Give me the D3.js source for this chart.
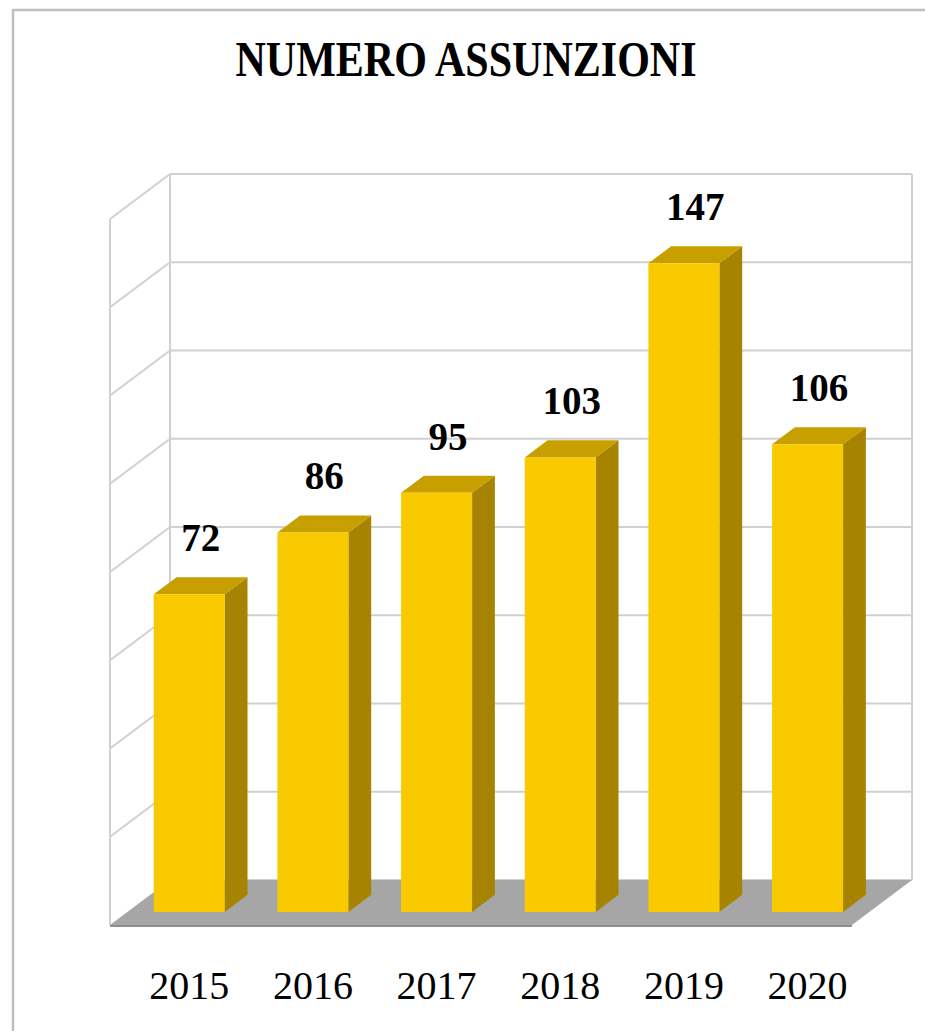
<!DOCTYPE html>
<html>
<head>
<meta charset="utf-8">
<script src="https://cdn.jsdelivr.net/npm/d3@7"></script>
<style>
  html, body { margin: 0; padding: 0; background: #fff; }
  svg { display: block; }
</style>
</head>
<body>
<svg id="chart" width="925" height="1031"></svg>
<script>
// ---- data ----
const title = "NUMERO ASSUNZIONI";
const years = ["2015", "2016", "2017", "2018", "2019", "2020"];
const assunzioni = [72, 86, 95, 103, 147, 106];
const gridTicks = [0, 20, 40, 60, 80, 100, 120, 140, 160];

// ---- layout ----
const svg = d3.select("#chart");
const W = 925, H = 1031;
const front = { x0: 110, x1: 852 };      // front plane horizontal extent
const depth = { dx: 60, dy: -45 };       // offset from front plane to back wall
const zBar = [0.29, 0.67];               // bar depth span (fraction of depth)

const y = d3.scaleLinear().domain([0, 160]).range([925, 219]);
const x = d3.scaleBand().domain(years).range([front.x0, front.x1])
  .paddingInner(0.426).paddingOuter(0.213);

// project (px along front plane, value, z-depth) -> screen
function P(px, v, z) {
  return [px + z * depth.dx, y(v) + z * depth.dy];
}
const gridColor = "#d0d0d0";

// outer frame
svg.append("path")
  .attr("d", `M13,${H} L13,10 L${W},10`)
  .attr("fill", "none").attr("stroke", "#bfbfbf").attr("stroke-width", 2.5);

// title
svg.append("text")
  .attr("x", 466).attr("y", 76)
  .attr("text-anchor", "middle")
  .attr("font-family", "Liberation Serif, serif")
  .attr("font-weight", "bold")
  .attr("font-size", 50)
  .attr("textLength", 461).attr("lengthAdjust", "spacingAndGlyphs")
  .text(title);

// ---- walls ----
const walls = svg.append("g");
walls.selectAll("line.bg").data(gridTicks).join("line")
  .attr("class", "bg")
  .attr("x1", P(front.x0, 0, 1)[0]).attr("x2", P(front.x1, 0, 1)[0])
  .attr("y1", d => P(0, d, 1)[1]).attr("y2", d => P(0, d, 1)[1])
  .attr("stroke", gridColor).attr("stroke-width", 2);
walls.selectAll("line.lg").data(gridTicks.slice(1)).join("line")
  .attr("class", "lg")
  .attr("x1", P(front.x0, 0, 0)[0]).attr("x2", P(front.x0, 0, 1)[0])
  .attr("y1", d => P(front.x0, d, 0)[1]).attr("y2", d => P(front.x0, d, 1)[1])
  .attr("stroke", gridColor).attr("stroke-width", 2);
[[front.x0, 0], [front.x0, 1], [front.x1, 1]].forEach(([px, z]) => {
  const a = P(px, 0, z), b = P(px, 160, z);
  walls.append("line")
    .attr("x1", a[0]).attr("y1", a[1]).attr("x2", b[0]).attr("y2", b[1])
    .attr("stroke", gridColor).attr("stroke-width", 2);
});

// ---- floor ----
const floorPts = [P(front.x0, 0, 0), P(front.x1, 0, 0), P(front.x1, 0, 1), P(front.x0, 0, 1)];
svg.append("polygon")
  .attr("points", floorPts.map(p => p.join(",")).join(" "))
  .attr("fill", "#a6a6a6");
svg.append("line")
  .attr("x1", floorPts[0][0]).attr("x2", floorPts[1][0])
  .attr("y1", floorPts[0][1] + 1).attr("y2", floorPts[1][1] + 1)
  .attr("stroke", "#8e8e8e").attr("stroke-width", 2);

// ---- bars ----
const data = years.map((yr, i) => ({ year: yr, value: assunzioni[i] }));
const bars = svg.append("g").selectAll("g").data(data).join("g");
const poly = pts => pts.map(p => p.join(",")).join(" ");

bars.append("polygon")
  .attr("points", d => {
    const xr = x(d.year) + x.bandwidth();
    return poly([P(xr, 0, zBar[0]), P(xr, d.value, zBar[0]), P(xr, d.value, zBar[1]), P(xr, 0, zBar[1])]);
  })
  .attr("fill", "#a68300");
bars.append("polygon")
  .attr("points", d => {
    const xl = x(d.year), xr = xl + x.bandwidth();
    return poly([P(xl, d.value, zBar[0]), P(xr, d.value, zBar[0]), P(xr, d.value, zBar[1]), P(xl, d.value, zBar[1])]);
  })
  .attr("fill", "#c7a000");
bars.append("polygon")
  .attr("points", d => {
    const xl = x(d.year), xr = xl + x.bandwidth();
    return poly([P(xl, 0, zBar[0]), P(xr, 0, zBar[0]), P(xr, d.value, zBar[0]), P(xl, d.value, zBar[0])]);
  })
  .attr("fill", "#f9ca00");

const zMid = (zBar[0] + zBar[1]) / 2;
bars.append("text")
  .attr("x", d => P(x(d.year) + x.bandwidth() / 2, d.value, zMid)[0])
  .attr("y", d => P(0, d.value, zBar[0])[1] - 43)
  .attr("text-anchor", "middle")
  .attr("font-family", "Liberation Serif, serif")
  .attr("font-weight", "bold")
  .attr("font-size", 39)
  .attr("fill", "#000")
  .text(d => d.value);

svg.append("g").selectAll("text").data(years).join("text")
  .attr("x", d => P(x(d) + x.bandwidth() / 2, 0, zBar[0])[0])
  .attr("y", 999)
  .attr("text-anchor", "middle")
  .attr("font-family", "Liberation Serif, serif")
  .attr("font-size", 40)
  .attr("fill", "#000")
  .text(d => d);
</script>
</body>
</html>
